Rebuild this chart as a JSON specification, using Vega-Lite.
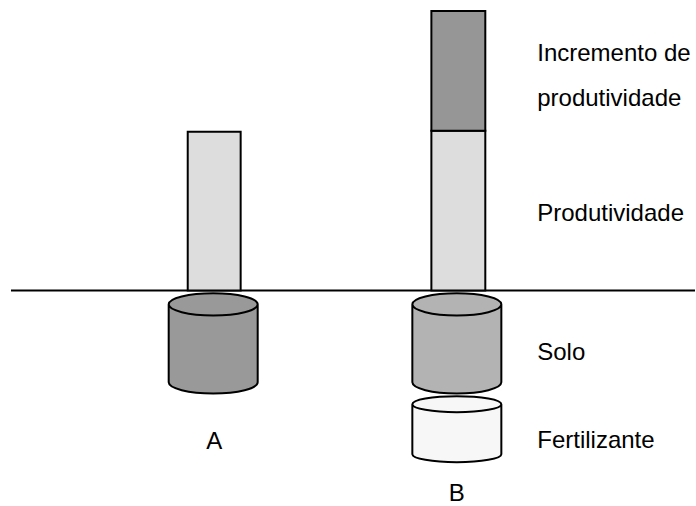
{
  "$schema": "https://vega.github.io/schema/vega-lite/v6.json",
  "width": 696,
  "height": 506,
  "autosize": {"type": "fit", "contains": "padding"},
  "padding": 0,
  "background": "white",
  "config": {"view": {"stroke": null}},
  "layer": [
    {
      "data": {"values": [{"x": 11, "x2": 696, "y": 0}]},
      "mark": {"type": "rule", "stroke": "black", "strokeWidth": 2},
      "encoding": {
        "x": {"field": "x", "type": "quantitative", "scale": {"domain": [0, 696], "nice": false, "zero": false}, "axis": null},
        "x2": {"field": "x2"},
        "y": {"field": "y", "type": "quantitative", "scale": {"domain": [-215, 291], "nice": false, "zero": false}, "axis": null}
      }
    },
    {
      "data": {"values": [
        {"group": "A", "part": "Produtividade", "x": 188, "x2": 241, "y": 0, "y2": 159},
        {"group": "B", "part": "Produtividade", "x": 432, "x2": 486, "y": 0, "y2": 160},
        {"group": "B", "part": "Incremento de produtividade", "x": 432, "x2": 486, "y": 160, "y2": 280}
      ]},
      "mark": {"type": "rect", "stroke": "black", "strokeWidth": 2},
      "encoding": {
        "x": {"field": "x", "type": "quantitative", "axis": null},
        "x2": {"field": "x2"},
        "y": {"field": "y", "type": "quantitative", "axis": null},
        "y2": {"field": "y2"},
        "fill": {"field": "part", "type": "nominal", "legend": null,
          "scale": {"domain": ["Produtividade", "Incremento de produtividade", "Solo A", "Solo B", "Fertilizante"],
                    "range": ["#dddddd", "#969696", "#999999", "#b3b3b3", "#f7f7f7"]}}
      }
    },
    {
      "data": {"values": [
        {"group": "A", "part": "Solo A", "x": 213.5, "y": -53},
        {"group": "B", "part": "Solo B", "x": 457.5, "y": -53}
      ]},
      "mark": {"type": "point", "filled": true, "opacity": 1, "stroke": "black", "strokeWidth": 2, "size": 7921,
        "shape": "M -1 -0.876 C -1 -1.014 -0.552 -1.126 0 -1.126 C 0.552 -1.126 1 -1.014 1 -0.876 L 1 0.876 C 1 1.014 0.552 1.126 0 1.126 C -0.552 1.126 -1 1.014 -1 0.876 Z M 1 -0.876 C 1 -0.738 0.552 -0.626 0 -0.626 C -0.552 -0.626 -1 -0.738 -1 -0.876"},
      "encoding": {
        "x": {"field": "x", "type": "quantitative", "axis": null},
        "y": {"field": "y", "type": "quantitative", "axis": null},
        "fill": {"field": "part", "type": "nominal", "legend": null,
          "scale": {"domain": ["Produtividade", "Incremento de produtividade", "Solo A", "Solo B", "Fertilizante"],
                    "range": ["#dddddd", "#969696", "#999999", "#b3b3b3", "#f7f7f7"]}}
      }
    },
    {
      "data": {"values": [
        {"group": "B", "part": "Fertilizante", "x": 457.5, "y": -139}
      ]},
      "mark": {"type": "point", "filled": true, "opacity": 1, "stroke": "black", "strokeWidth": 2, "size": 7921,
        "shape": "M -1 -0.562 C -1 -0.661 -0.552 -0.742 0 -0.742 C 0.552 -0.742 1 -0.661 1 -0.562 L 1 0.562 C 1 0.661 0.552 0.742 0 0.742 C -0.552 0.742 -1 0.661 -1 0.562 Z M 1 -0.562 C 1 -0.463 0.552 -0.382 0 -0.382 C -0.552 -0.382 -1 -0.463 -1 -0.562"},
      "encoding": {
        "x": {"field": "x", "type": "quantitative", "axis": null},
        "y": {"field": "y", "type": "quantitative", "axis": null},
        "fill": {"field": "part", "type": "nominal", "legend": null,
          "scale": {"domain": ["Produtividade", "Incremento de produtividade", "Solo A", "Solo B", "Fertilizante"],
                    "range": ["#dddddd", "#969696", "#999999", "#b3b3b3", "#f7f7f7"]}}
      }
    },
    {
      "data": {"values": [
        {"label": "Incremento de", "x": 538, "y": 230},
        {"label": "produtividade", "x": 538, "y": 185},
        {"label": "Produtividade", "x": 538, "y": 70},
        {"label": "Solo", "x": 538, "y": -70},
        {"label": "Fertilizante", "x": 538, "y": -158}
      ]},
      "mark": {"type": "text", "align": "left", "baseline": "alphabetic", "font": "Liberation Sans", "fontSize": 24, "color": "black"},
      "encoding": {
        "x": {"field": "x", "type": "quantitative", "axis": null},
        "y": {"field": "y", "type": "quantitative", "axis": null},
        "text": {"field": "label", "type": "nominal"}
      }
    },
    {
      "data": {"values": [
        {"label": "A", "x": 214.5, "y": -159},
        {"label": "B", "x": 457.5, "y": -211}
      ]},
      "mark": {"type": "text", "align": "center", "baseline": "alphabetic", "font": "Liberation Sans", "fontSize": 24, "color": "black"},
      "encoding": {
        "x": {"field": "x", "type": "quantitative", "axis": null},
        "y": {"field": "y", "type": "quantitative", "axis": null},
        "text": {"field": "label", "type": "nominal"}
      }
    }
  ]
}
